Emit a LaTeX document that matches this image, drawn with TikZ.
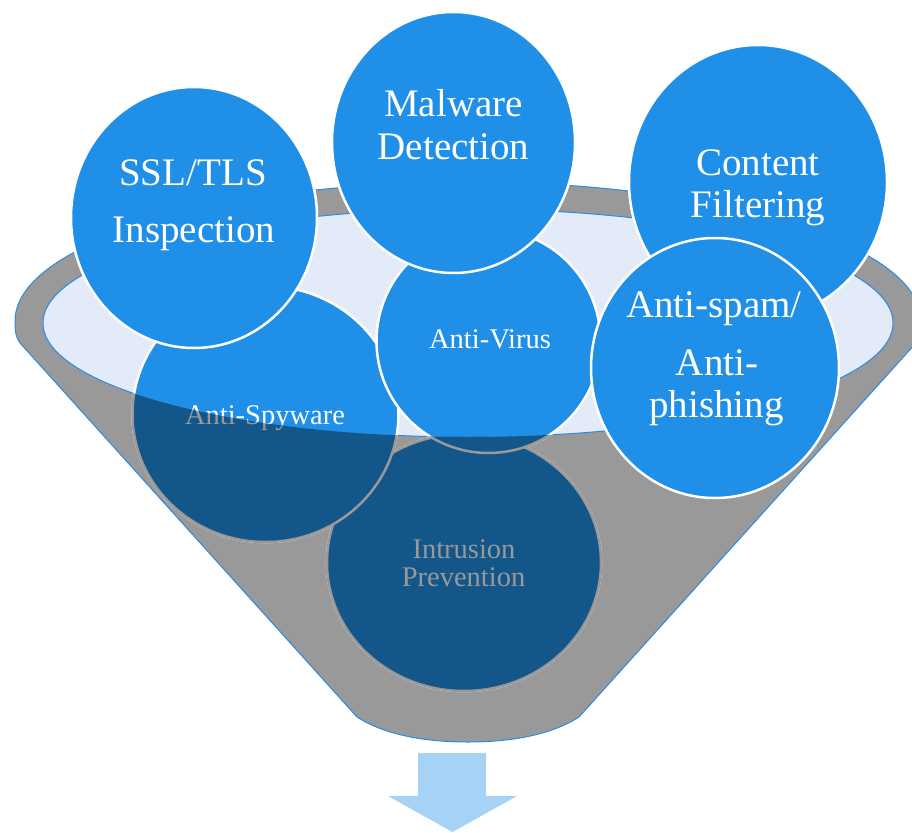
\documentclass[tikz,border=0pt]{standalone}
\usepackage{fontspec}
\setmainfont{Liberation Serif}
\usetikzlibrary{shapes.geometric}
\definecolor{bub}{HTML}{1F8FE8}
\definecolor{bubdk}{HTML}{135689}
\definecolor{fun}{HTML}{999999}
\definecolor{rimin}{HTML}{E3EAF8}
\definecolor{edge}{HTML}{2A8BE0}
\definecolor{arr}{HTML}{A6D3F5}
\begin{document}
\begin{tikzpicture}[x=1pt,y=-1pt,
  bubble/.style={ellipse, draw=white, line width=2.5pt, fill=bub, inner sep=0pt, outer sep=0pt},
  bubbledk/.style={ellipse, draw=fun, line width=2.5pt, fill=bubdk, inner sep=0pt, outer sep=0pt},
  big/.style={anchor=base, inner sep=0pt, text=white, font=\fontsize{39}{44}\selectfont},
  small/.style={anchor=base, inner sep=0pt, text=white, font=\fontsize{28.5}{32}\selectfont},
  smalldk/.style={small, text=fun},
]
\useasboundingbox (0,0) rectangle (912,832);
\clip (0,0) rectangle (912,832);
% funnel body
\path[fill=fun, draw=edge, line width=1pt]
  (357,717) -- (20,343) .. controls (15,336) and (15,328) .. (15,321)
  arc[start angle=180, end angle=360, x radius=453, y radius=139]
  .. controls (921,328) and (921,336) .. (916,343) -- (579,717)
  .. controls (551,735) and (511,742) .. (468,742)
  .. controls (425,742) and (385,735) .. (357,717) -- cycle;
% funnel mouth
\path[fill=rimin, draw=edge, line width=1pt] (468,323) ellipse[x radius=425, y radius=114];
% circles inside the funnel
\node[bubble, minimum width=274pt, minimum height=257pt] (ips) at (464,562.5) {};
\node[small] (ips-a) at (464,558) {Intrusion};
\node[small] (ips-b) at (463.5,586) {Prevention};
\node[bubble, minimum width=266pt, minimum height=256pt] (spy) at (265.5,414) {};
\node[small] (spy-t) at (265,424) {Anti-Spyware};
\node[bubble, minimum width=224pt, minimum height=224pt] (av) at (488.5,341) {};
\node[small] (av-t) at (490,348) {Anti-Virus};
% the part seen through the front of the funnel
\begin{scope}
\clip (0,323) -- (43,323) arc[start angle=180, end angle=0, x radius=425, y radius=114]
  -- (912,323) -- (912,832) -- (0,832) -- cycle;
\node[bubbledk, minimum width=274pt, minimum height=257pt] (ips-dk) at (464,562.5) {};
\node[smalldk] (ips-dka) at (464,558) {Intrusion};
\node[smalldk] (ips-dkb) at (463.5,586) {Prevention};
\node[bubbledk, minimum width=266pt, minimum height=256pt] (spy-dk) at (265.5,414) {};
\node[smalldk] (spy-dkt) at (265,424) {Anti-Spyware};
\node[bubbledk, minimum width=224pt, minimum height=224pt] (av-dk) at (488.5,341) {};
\node[smalldk] (av-dkt) at (490,348) {Anti-Virus};
\end{scope}
% circles above the funnel
\node[bubble, minimum width=246pt, minimum height=261pt] (ssl) at (194,217.5) {};
\node[big] (ssl-a) at (193,185) {SSL/TLS};
\node[big] (ssl-b) at (194,242) {Inspection};
\node[bubble, minimum width=243pt, minimum height=261pt] (mal) at (453.5,142.5) {};
\node[big] (mal-a) at (453.5,117) {Malware};
\node[big] (mal-b) at (453.5,159) {Detection};
\node[bubble, minimum width=258pt, minimum height=274pt] (con) at (758,182) {};
\node[big] (con-a) at (758,175) {Content};
\node[big] (con-b) at (758,217) {Filtering};
\node[bubble, minimum width=248pt, minimum height=260pt] (spam) at (715,368) {};
\node[big] (spam-a) at (714,317) {Anti-spam/};
\node[big] (spam-b) at (717,375) {Anti-};
\node[big] (spam-c) at (716.5,417) {phishing};
% output arrow
\path[fill=arr] (418,753) -- (486,753) -- (486,796) -- (517,796) -- (452.5,832)
  -- (388,796) -- (418,796) -- cycle;
\end{tikzpicture}
\end{document}
